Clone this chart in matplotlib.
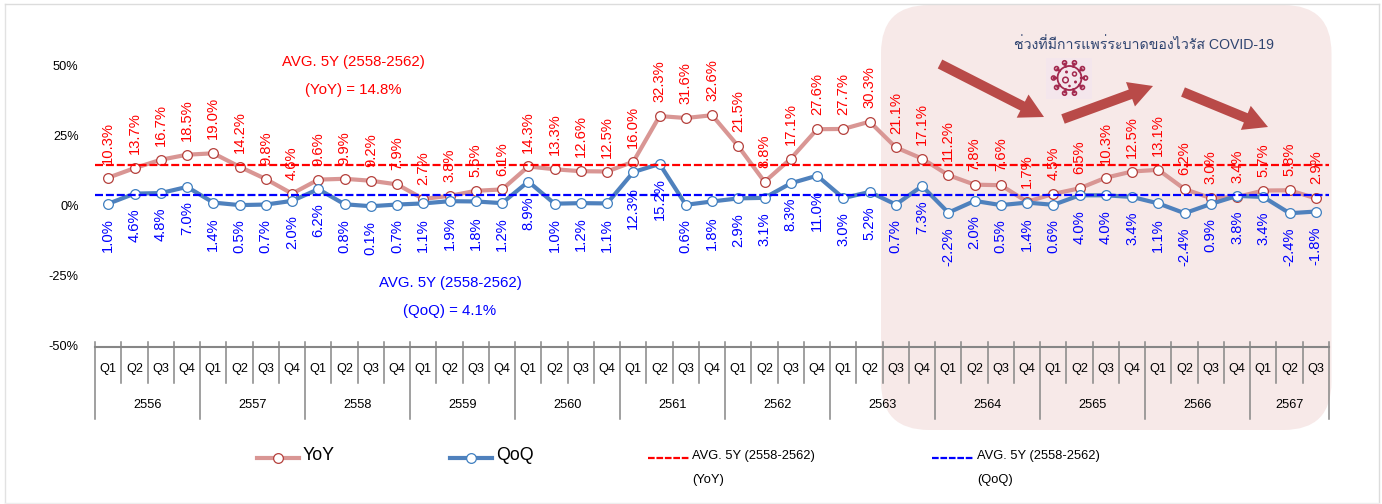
import matplotlib
matplotlib.use("Agg")
import matplotlib.pyplot as plt
from matplotlib import font_manager, ft2font
from matplotlib.patches import FancyBboxPatch, Polygon, Circle, Rectangle
from matplotlib.transforms import ScaledTranslation
import numpy as np

# look for whatever installed family has thai letters
thai_fonts = []
for f in font_manager.fontManager.ttflist:
    try:
        if 0x0E0A in ft2font.FT2Font(f.fname).get_charmap() and f.name not in thai_fonts:
            thai_fonts.append(f.name)
    except Exception:
        pass

plt.rcParams['font.family'] = ['Liberation Sans', 'Noto Sans', 'DejaVu Sans']

years = ['2556', '2557', '2558', '2559', '2560', '2561', '2562', '2563', '2564', '2565', '2566', '2567']
quarters = (['Q1', 'Q2', 'Q3', 'Q4'] * 12)[:47]
yoy = [10.3, 13.7, 16.7, 18.5, 19.0, 14.2, 9.8, 4.6, 9.6, 9.9, 9.2, 7.9,
       2.7, 3.8, 5.6, 6.1, 14.3, 13.3, 12.6, 12.5, 16.0, 32.3, 31.6, 32.6,
       21.5, 8.8, 17.1, 27.6, 27.7, 30.3, 21.1, 17.1, 11.2, 7.8, 7.6, 1.7,
       4.5, 6.5, 10.3, 12.5, 13.1, 6.2, 3.0, 3.4, 5.7, 5.8, 2.9]
qoq = [1.0, 4.6, 4.8, 7.0, 1.4, 0.5, 0.7, 2.0, 6.2, 0.8, 0.1, 0.7,
       1.1, 1.9, 1.8, 1.2, 8.9, 1.0, 1.2, 1.1, 12.3, 15.2, 0.6, 1.8,
       2.9, 3.1, 8.3, 11.0, 3.0, 5.2, 0.7, 7.3, -2.2, 2.0, 0.5, 1.4,
       0.6, 4.0, 4.0, 3.4, 1.1, -2.4, 0.9, 3.8, 3.4, -2.4, -1.8]
avg_yoy = 14.8
avg_qoq = 4.1
yticks = [-50, -25, 0, 25, 50]

W, H = 1382, 504
fig = plt.figure(figsize=(W / 100, H / 100), dpi=100)

# page layer in pixel coordinates, behind the chart
bg = fig.add_axes([0, 0, 1, 1], zorder=0)
bg.set_xlim(0, W)
bg.set_ylim(H, 0)
bg.axis('off')
bg.plot([5.5, 5.5], [3.5, 503], color='#e2e2e2', lw=1)
bg.plot([1379, 1379], [3.5, 503], color='#dcdcdc', lw=1)
bg.plot([5.5, 1379], [3.5, 3.5], color='#dcdcdc', lw=1)
bg.plot([5.5, 1379], [503, 503], color='#eeeeee', lw=1)
bg.add_patch(FancyBboxPatch((881 + 48, 5 + 48), 450.5 - 96, 425 - 96,
                            boxstyle="round,pad=48,rounding_size=48",
                            fc='#f7e9e8', ec='none'))
bg.add_patch(Rectangle((1046, 58), 46, 41, fc='#f4e6ec', ec='none'))

# chart
x0, x1, ytop, ybot = 95.2, 1329, 66.5, 346.5
ax = fig.add_axes([x0 / W, 1 - ybot / H, (x1 - x0) / W, (ybot - ytop) / H], zorder=1)
ax.patch.set_alpha(0)
x = np.arange(len(yoy))
ax.set_xlim(-0.5, len(yoy) - 0.5)
ax.set_ylim(-50, 50)

ax.plot(x, yoy, color='#d99694', lw=3, marker='o', ms=7, mfc='white', mec='#b5403c', mew=0.9, zorder=3)
ax.plot(x, qoq, color='#4f81bd', lw=3, marker='o', ms=7, mfc='white', mec='#3f7fc0', mew=0.9, zorder=3)
ax.axhline(avg_yoy, color='#ff0000', lw=1.6, ls=(0, (3.6, 1.3)), zorder=4)
ax.axhline(avg_qoq, color='#0000ff', lw=1.6, ls=(0, (3.6, 1.3)), zorder=4)

for i in x:
    ax.annotate('%.1f%%' % yoy[i], (i, yoy[i]), xytext=(0, 10), textcoords='offset points',
                rotation=90, ha='center', va='bottom', fontsize=10.6, color='#ff0000', zorder=5)
    ax.annotate('%.1f%%' % qoq[i], (i, qoq[i]), xytext=(0, -10.5), textcoords='offset points',
                rotation=90, ha='center', va='top', fontsize=10.6, color='#0000ff', zorder=5)

for s in ['top', 'right', 'left']:
    ax.spines[s].set_visible(False)
ax.spines['bottom'].set_color('#868686')
ax.spines['bottom'].set_linewidth(1.5)
ax.set_yticks(yticks)
ax.set_yticklabels(['%d%%' % v for v in yticks], fontsize=9.2)
ax.tick_params(axis='y', length=0, pad=12)
for lab in ax.get_yticklabels():
    lab.set_transform(lab.get_transform() + ScaledTranslation(0, 1.5 / 100, fig.dpi_scale_trans))
ax.set_xticks([])

# two level category axis
trans = ax.get_xaxis_transform()
px = 1 / (ybot - ytop)
for i in range(len(yoy) + 1):
    long_tick = i % 4 == 0 or i == len(yoy)
    ax.plot([i - 0.5, i - 0.5], [5 * px, -(72 if long_tick else 36) * px], transform=trans,
            color='#868686', lw=1.1, clip_on=False, zorder=2)
for i, q in enumerate(quarters):
    ax.text(i, -22.5 * px, q, transform=trans, ha='center', va='center', fontsize=9.2)
for j, yr in enumerate(years):
    first = j * 4
    last = min(first + 3, len(yoy) - 1)
    ax.text((first + last) / 2, -58 * px, yr, transform=trans, ha='center', va='center', fontsize=9.2)

# text and shapes on top
fg = fig.add_axes([0, 0, 1, 1], zorder=2)
fg.set_xlim(0, W)
fg.set_ylim(H, 0)
fg.axis('off')
fg.text(353.5, 62, 'AVG. 5Y (2558-2562)', color='#ff0000', fontsize=10.8, ha='center', va='center')
fg.text(353.5, 90, '(YoY) = 14.8%', color='#ff0000', fontsize=10.8, ha='center', va='center')
fg.text(450, 283, 'AVG. 5Y (2558-2562)', color='#0000ff', fontsize=10.8, ha='center', va='center')
fg.text(450, 311, '(QoQ) = 4.1%', color='#0000ff', fontsize=10.8, ha='center', va='center')
fg.text(1144, 45, 'ช่วงที่มีการแพร่ระบาดของไวรัส COVID-19', color='#2f4470', fontsize=10.2,
        ha='center', va='center', family=['Liberation Sans'] + thai_fonts + ['DejaVu Sans'])

arrow_c = '#b94a48'
for (xa, ya, xb, yb) in [(940, 64, 1044, 117), (1063, 119, 1153, 86), (1183, 92, 1268, 127)]:
    a = np.array([xa, ya], float)
    b = np.array([xb, yb], float)
    d = (b - a) / np.hypot(*(b - a))
    n = np.array([-d[1], d[0]])
    neck = b - d * 24
    fg.add_patch(Polygon([a + n * 5, neck + n * 5, neck + n * 13, b, neck - n * 13, neck - n * 5, a - n * 5],
                         fc=arrow_c, ec='none'))

# virus icon
cx, cy = 1069.5, 78
vc = '#a3294f'
fg.add_patch(Circle((cx, cy), 12, fc='none', ec=vc, lw=1.3))
for ang in np.arange(0, 360, 36):
    c, s = np.cos(np.radians(ang)), np.sin(np.radians(ang))
    fg.plot([cx + 12 * c, cx + 15 * c], [cy + 12 * s, cy + 15 * s], color=vc, lw=1.6)
    fg.add_patch(Circle((cx + 16 * c, cy + 16 * s), 2, fc='none', ec=vc, lw=1.2))
fg.add_patch(Circle((cx - 4, cy + 2), 2.8, fc='none', ec=vc, lw=1.1))
fg.add_patch(Circle((cx + 5, cy - 4), 2, fc='none', ec=vc, lw=1.1))
fg.add_patch(Circle((cx + 6, cy + 4), 1.5, fc=vc, ec='none'))
fg.add_patch(Circle((cx - 3, cy - 6), 1.5, fc=vc, ec='none'))
fg.add_patch(Circle((cx, cy + 8), 1.3, fc=vc, ec='none'))

# legend
fg.plot([257, 299], [458, 458], color='#d99694', lw=3)
fg.plot([278], [458], marker='o', ms=7, mfc='white', mec='#b5403c', mew=0.9)
fg.text(303, 456, 'YoY', fontsize=12.8, ha='left', va='center')
fg.plot([450, 492], [458, 458], color='#4f81bd', lw=3)
fg.plot([471], [458], marker='o', ms=7, mfc='white', mec='#3f7fc0', mew=0.9)
fg.text(496, 456, 'QoQ', fontsize=12.8, ha='left', va='center')
fg.plot([648, 689], [458, 458], color='#ff0000', lw=1.6, ls=(0, (3, 0.8)))
fg.text(692, 456, 'AVG. 5Y (2558-2562)', fontsize=9.3, ha='left', va='center')
fg.text(692, 480, '(YoY)', fontsize=9.3, ha='left', va='center')
fg.plot([932, 973], [458, 458], color='#0000ff', lw=1.6, ls=(0, (3, 0.8)))
fg.text(977, 456, 'AVG. 5Y (2558-2562)', fontsize=9.3, ha='left', va='center')
fg.text(977, 480, '(QoQ)', fontsize=9.3, ha='left', va='center')

fig.savefig('out.png', dpi=100)
